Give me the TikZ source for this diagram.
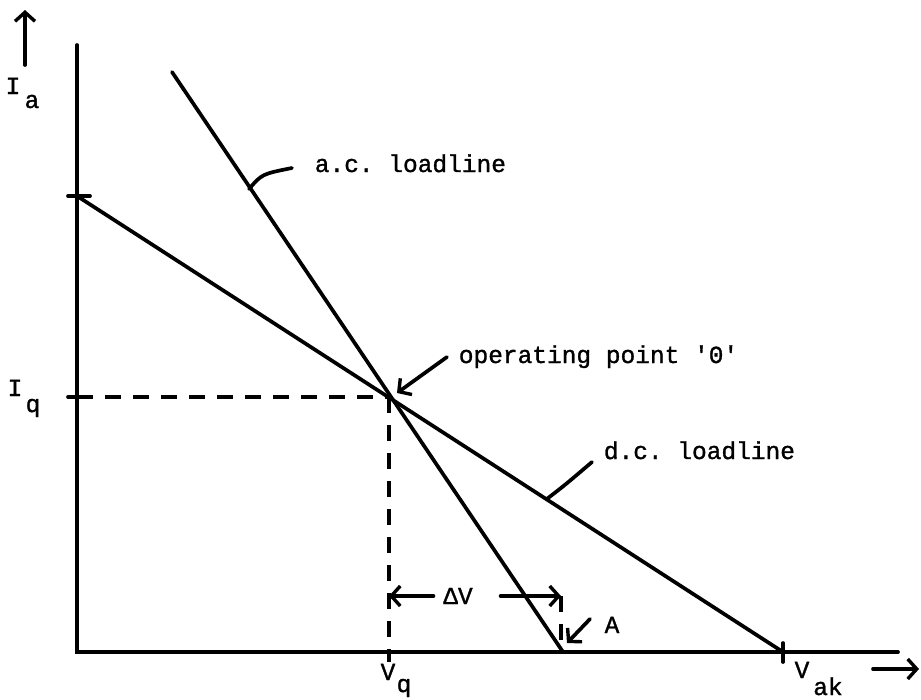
\documentclass[tikz,border=0pt]{standalone}
\usepackage{fontspec}
\setmonofont[FakeBold=1.2]{Liberation Mono}
\usetikzlibrary{arrows.meta,calc}
\begin{document}
\begin{tikzpicture}[x=1pt,y=-1pt, line width=3.7pt, line cap=round,
  lbl/.style={font=\ttfamily\fontsize{24.5}{28}\selectfont, inner sep=0pt, anchor=base},
  barb/.style={-{Straight Barb[length=9pt,width=20pt,line width=3.4pt]}},
  dsh/.style={dash pattern=on 16pt off 12pt, line cap=butt}]
\useasboundingbox (0,0) rectangle (921,699);
% key points
\coordinate (orig) at (77,652);
\coordinate (ytop) at (77,45);
\coordinate (xend) at (898,652);
\coordinate (O) at (389,397);
\coordinate (acTop) at (172,72);
\coordinate (acBot) at (563,652);
\coordinate (dcTop) at (77,196);
\coordinate (dcBot) at (783,652);
\coordinate (Iq) at (77,397);
\coordinate (VqLow) at (389,662);
% axes
\draw (ytop) -- (orig) -- (xend);
\coordinate (upA) at (25,65); \coordinate (upB) at (25,10);
\draw[barb] (upA) -- (upB);
\coordinate (rtA) at (873,669); \coordinate (rtB) at (919,669);
\draw[barb] (rtA) -- (rtB);
% ticks
\draw ($(dcTop)+(-9,0)$) -- ($(dcTop)+(13,0)$);
\draw ($(Iq)+(-9,0)$) -- ($(Iq)+(13,0)$);
\draw ($(dcBot)+(0,-9)$) -- ($(dcBot)+(0,10)$);
% loadlines
\draw (dcTop) -- (dcBot);
\draw (acTop) -- (acBot);
% dashed projections
\draw[dsh] (Iq) -- (O);
\draw[dsh] (O) -- (VqLow);
% delta V
\coordinate (dvL) at (389,596);
\coordinate (dvR) at (561,596);
\node[lbl, anchor=center] (dV) at (458,596) {ΔV};
\draw[barb] ($(dV.west)+(-8,0)$) -- (dvL);
\draw[barb] ($(dV.east)+(26,0)$) -- (dvR);
\coordinate (dvB) at (561,652);
\draw[dsh] (dvR) -- (dvB);
% A
\node[lbl] (A) at (612,633) {A};
\coordinate (Atail) at (590,619);
\coordinate (Ahead) at (567,643);
\draw[barb] (Atail) -- (Ahead);
% labels
\node[lbl] (Ia) at (13,94) {I};
\node[lbl] (Ias) at (32,108) {a};
\node[lbl] (Iql) at (15,396) {I};
\node[lbl] (Iqs) at (33,412) {q};
\node[lbl] (Vql) at (388,680) {V};
\node[lbl] (Vqs) at (404,692) {q};
\node[lbl] (Vak) at (802,678) {V};
\node[lbl] (Vaks) at (828,695) {ak};
\node[lbl, anchor=base west] (opl) at (457,363) {operating point '0'};
\node[lbl, anchor=base west] (acl) at (313,172) {a.c. loadline};
\node[lbl, anchor=base west] (dcl) at (602,459) {d.c. loadline};
% leaders
\coordinate (acL) at (249,189);
\coordinate (acE) at (292,168);
\draw (acL) .. controls (262,174) .. (acE);
\coordinate (dcL) at ($(dcTop)!0.665!(dcBot)$);
\coordinate (dcE) at (592,462);
\draw (dcL) .. controls (565,485) .. (dcE);
\coordinate (opT) at (447,357);
\coordinate (opH) at (397,393);
\draw[barb] (opT) -- (opH);
\end{tikzpicture}
\end{document}
